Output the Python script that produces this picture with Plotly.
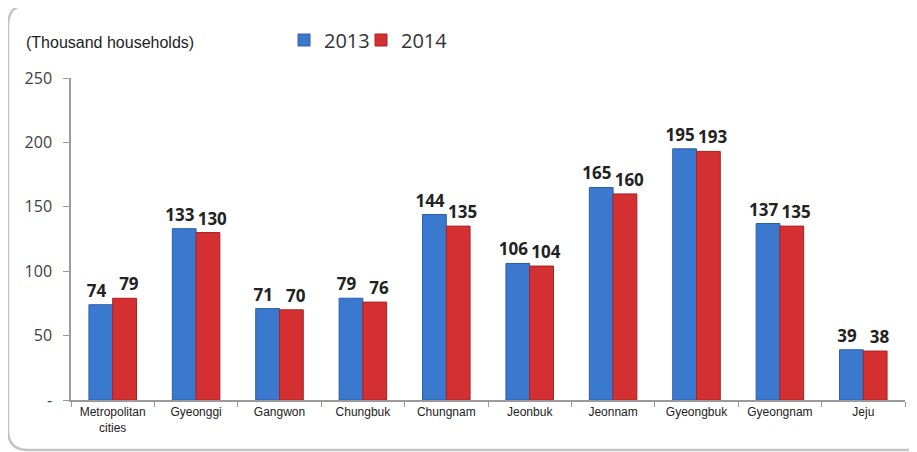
import plotly.graph_objects as go

regions = ["Metropolitan<br>cities", "Gyeonggi", "Gangwon", "Chungbuk", "Chungnam",
           "Jeonbuk", "Jeonnam", "Gyeongbuk", "Gyeongnam", "Jeju"]
v2013 = [74, 133, 71, 79, 144, 106, 165, 195, 137, 39]
v2014 = [79, 130, 70, 76, 135, 104, 160, 193, 135, 38]
y_ticks = [0, 50, 100, 150, 200, 250]
y_tick_labels = ["-", "50", "100", "150", "200", "250"]

label_font = dict(family="Open Sans", size=17, color="#222222", weight="bold")
nb = "\u00a0"  # non-breaking spaces push the two labels of a pair apart a little

fig = go.Figure()
fig.add_trace(go.Bar(
    name="2013", x=regions, y=v2013, legend="legend",
    marker=dict(color="#3b79cf", line=dict(color="#2a5ea8", width=1)),
    text=[f"{v}{nb * 2}" for v in v2013], textposition="outside",
    cliponaxis=False, constraintext="none", textfont=label_font,
))
fig.add_trace(go.Bar(
    name="2014", x=regions, y=v2014, legend="legend2",
    marker=dict(color="#d43032", line=dict(color="#a82224", width=1)),
    text=[f"{nb * 2}{v}" for v in v2014], textposition="outside",
    cliponaxis=False, constraintext="none", textfont=label_font,
))


# page pixels -> paper coords (plot area 71..905 x 78..400 on the page)
def px(x):
    return (x - 71) / 834


def py(y):
    return (400 - y) / 322


frame = (f"M {px(960)},{py(5)} L {px(28)},{py(5)} Q {px(8)},{py(5)} {px(8)},{py(25)} "
         f"L {px(8)},{py(430)} Q {px(8)},{py(450)} {px(28)},{py(450)} L {px(960)},{py(450)}")
fig.add_shape(type="path", path=frame, xref="paper", yref="paper",
              line=dict(color="#c4c4c4", width=2.5))

legend_style = dict(orientation="h", xanchor="left", yanchor="middle", y=py(40),
                    font=dict(family="Open Sans", size=20, color="#333333"),
                    itemwidth=30, bgcolor="rgba(0,0,0,0)")

# page body has an 8px margin, so the figure is 8px smaller than the window
fig.update_layout(
    width=909, height=444,
    template="plotly_white",
    paper_bgcolor="white", plot_bgcolor="white",
    margin=dict(l=63, r=12, t=70, b=52, autoexpand=False),
    barmode="group", bargap=0.43, bargroupgap=0,
    font=dict(family="Liberation Sans", color="#222222"),
    showlegend=True,
    legend=dict(x=px(284), **legend_style),
    legend2=dict(x=px(361), **legend_style),
    annotations=[dict(text="(Thousand households)", xref="paper", yref="paper",
                      x=px(24), y=py(43), xanchor="left", yanchor="middle",
                      showarrow=False,
                      font=dict(family="Liberation Sans", size=16, color="#222222"))],
)
fig.update_xaxes(
    showline=True, linecolor="#9a9a9a", linewidth=1.5,
    ticks="outside", tickson="boundaries", ticklen=5, tickcolor="#9a9a9a",
    showgrid=False,
    tickfont=dict(family="Liberation Sans", size=12, color="#222222"),
)
fig.update_yaxes(
    range=[0, 250], tickvals=y_ticks, ticktext=y_tick_labels,
    showline=True, linecolor="#9a9a9a", linewidth=1.5,
    ticks="outside", ticklen=6, tickcolor="#9a9a9a", ticklabelstandoff=8,
    showgrid=False, zeroline=False,
    tickfont=dict(family="Open Sans", size=16, color="#404040"),
)

fig.write_html("out.html")
